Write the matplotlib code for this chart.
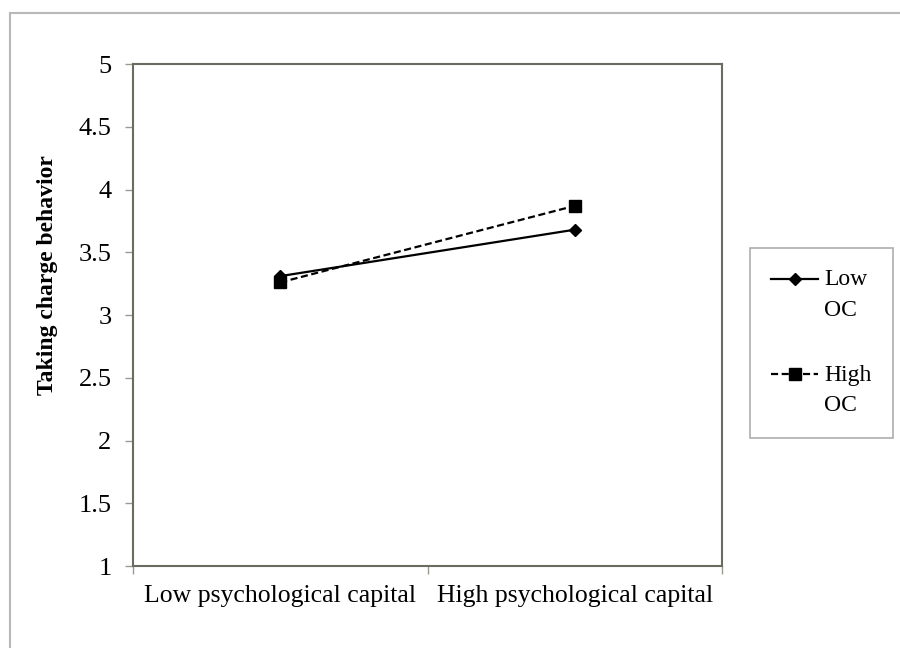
import matplotlib
matplotlib.use("Agg")
import matplotlib.pyplot as plt
from matplotlib.lines import Line2D

categories = ["Low psychological capital", "High psychological capital"]
low_oc = [3.31, 3.68]
high_oc = [3.26, 3.87]
series_labels = ["Low\nOC", "High\nOC"]
y_ticks = [1, 1.5, 2, 2.5, 3, 3.5, 4, 4.5, 5]

plt.rcParams["font.family"] = ["Liberation Serif", "DejaVu Serif"]

fig = plt.figure(figsize=(9, 6.48), dpi=100)
ax = fig.add_axes([0.1478, 0.1265, 0.6544, 0.7747])

# outer chart-area frame (left and top edges only visible)
frame_col = "#b8b8b8"
fig.add_artist(Line2D([0.011, 0.011], [0, 0.98], transform=fig.transFigure,
                      color=frame_col, lw=1.5))
fig.add_artist(Line2D([0.011, 1.0], [0.98, 0.98], transform=fig.transFigure,
                      color=frame_col, lw=1.5))

x = list(range(len(categories)))
ax.plot(x, low_oc, color="black", lw=1.6, marker="D", ms=6.5, label=series_labels[0])
ax.plot(x, high_oc, color="black", lw=1.6, ls=(0, (3.2, 1.6)), marker="s", ms=8,
        label=series_labels[1])

ax.set_xlim(-0.5, len(categories) - 0.5)
ax.set_ylim(1, 5)
ax.set_yticks(y_ticks)
ax.set_yticklabels([f"{v:g}" for v in y_ticks])
ax.set_xticks([i - 0.5 for i in range(len(categories) + 1)])
ax.set_xticklabels([])
ax.set_xticks(x, minor=True)
ax.set_xticklabels(categories, minor=True)

spine_col = "#6b6b5e"
for s in ax.spines.values():
    s.set_color(spine_col)
    s.set_linewidth(1.5)
ax.tick_params(axis="y", which="major", direction="out", length=5.5, width=1,
               color="#9a9a90", labelsize=19, pad=10)
ax.tick_params(axis="x", which="major", direction="out", length=6, width=1,
               color="#9a9a90")
ax.tick_params(axis="x", which="minor", length=0, labelsize=18.5, pad=14)

ax.set_ylabel("Taking charge behavior", fontsize=17, fontweight="bold")
ax.yaxis.set_label_coords(-0.128, 0.58)

fs = 17
lsp = 1.6
leg = ax.legend(loc="upper left", bbox_to_anchor=(0.8333, 0.617),
                bbox_transform=fig.transFigure, frameon=True, fancybox=False,
                fontsize=fs, handlelength=2.0, labelspacing=1.85,
                borderpad=0.9, handletextpad=0.25, borderaxespad=0)
leg.get_frame().set_edgecolor("#9a9a9a")
leg.get_frame().set_linewidth(1.2)
for t in leg.get_texts():
    t.set_linespacing(lsp)
# put each key next to the first line of its two-line label
for h in leg.legend_handles:
    h.set_ydata([y + 0.42 * lsp * fs for y in h.get_ydata()])

fig.savefig("out.png", dpi=100)
